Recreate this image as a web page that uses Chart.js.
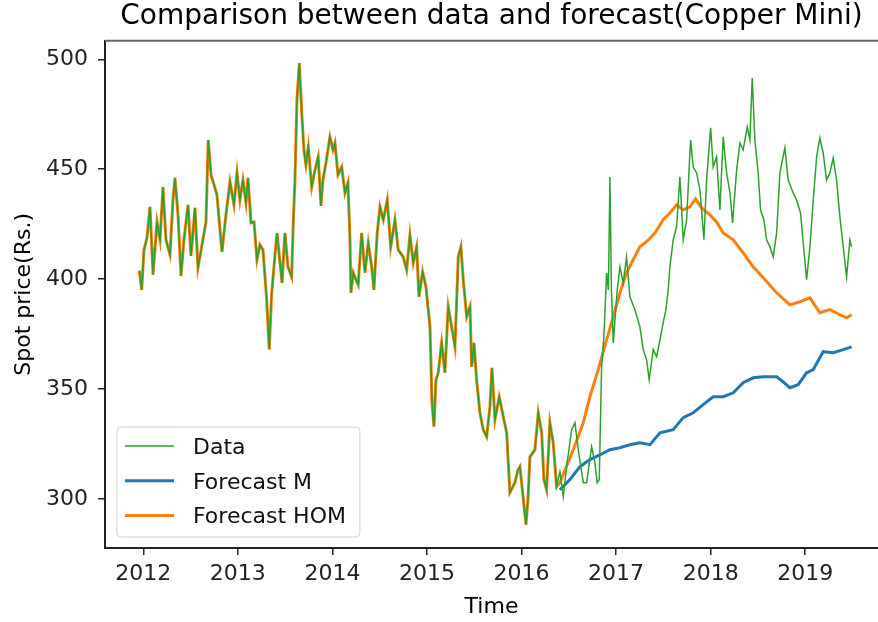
<!DOCTYPE html>
<html>
<head>
<meta charset="utf-8">
<script src="https://cdn.jsdelivr.net/npm/chart.js@4.4.0/dist/chart.umd.min.js"></script>
<style>
  html, body { margin: 0; padding: 0; background: #fff; }
</style>
</head>
<body>
<canvas id="graph" width="878" height="622"></canvas>
<script>
const titleText = 'Comparison between data and forecast(Copper Mini)';
const xTicks = [2012, 2013, 2014, 2015, 2016, 2017, 2018, 2019];
const yTicks = [300, 350, 400, 450, 500];

// observed spot price
const dataYears = [
  2011.958, 2011.983, 2012.007, 2012.039, 2012.071, 2012.103, 2012.145, 2012.177, 2012.208, 2012.240,
  2012.282, 2012.314, 2012.335, 2012.367, 2012.399, 2012.430, 2012.473, 2012.504, 2012.547, 2012.578,
  2012.621, 2012.663, 2012.687, 2012.716, 2012.748, 2012.779, 2012.811, 2012.832, 2012.874, 2012.917,
  2012.959, 2012.991, 2013.022, 2013.054, 2013.086, 2013.107, 2013.139, 2013.171, 2013.202, 2013.234,
  2013.266, 2013.305, 2013.332, 2013.358, 2013.393, 2013.414, 2013.445, 2013.467, 2013.498, 2013.530,
  2013.569, 2013.586, 2013.604, 2013.625, 2013.650, 2013.678, 2013.699, 2013.720, 2013.745, 2013.781,
  2013.816, 2013.850, 2013.879, 2013.900, 2013.932, 2013.974, 2014.006, 2014.027, 2014.059, 2014.098,
  2014.133, 2014.164, 2014.186, 2014.196, 2014.221, 2014.249, 2014.273, 2014.309, 2014.344, 2014.379,
  2014.415, 2014.439, 2014.474, 2014.503, 2014.538, 2014.580, 2014.616, 2014.661, 2014.696, 2014.749,
  2014.785, 2014.820, 2014.855, 2014.891, 2014.915, 2014.954, 2014.989, 2015.032, 2015.053, 2015.074,
  2015.095, 2015.119, 2015.155, 2015.190, 2015.225, 2015.261, 2015.296, 2015.331, 2015.359, 2015.384,
  2015.420, 2015.455, 2015.473, 2015.497, 2015.525, 2015.560, 2015.595, 2015.631, 2015.666, 2015.687,
  2015.719, 2015.764, 2015.807, 2015.843, 2015.877, 2015.930, 2015.962, 2015.983, 2016.012, 2016.047,
  2016.068, 2016.089, 2016.142, 2016.177, 2016.213, 2016.237, 2016.265, 2016.300, 2016.335, 2016.371,
  2016.406,
  2016.441, 2016.477, 2016.530, 2016.565, 2016.600, 2016.653, 2016.689, 2016.741, 2016.776, 2016.800,
  2016.822, 2016.847, 2016.871, 2016.900, 2016.919, 2016.935, 2016.951, 2016.970, 2017.012, 2017.041,
  2017.076, 2017.111, 2017.146, 2017.199, 2017.252, 2017.287, 2017.323, 2017.350, 2017.393, 2017.429,
  2017.464, 2017.498, 2017.527, 2017.551, 2017.569, 2017.604, 2017.640, 2017.675, 2017.710, 2017.746,
  2017.788, 2017.816, 2017.852, 2017.887, 2017.929, 2017.957, 2018.000, 2018.027, 2018.063, 2018.098,
  2018.133, 2018.169, 2018.204, 2018.232, 2018.275, 2018.310, 2018.344, 2018.387, 2018.415, 2018.440,
  2018.468, 2018.503, 2018.528, 2018.563, 2018.592, 2018.627, 2018.662, 2018.698, 2018.732, 2018.785,
  2018.820, 2018.873, 2018.909, 2018.951, 2018.979, 2019.015, 2019.050, 2019.085, 2019.121, 2019.155,
  2019.190, 2019.226, 2019.261, 2019.296, 2019.332, 2019.367, 2019.402, 2019.438, 2019.473, 2019.491
];
const dataValues = [
  403.8, 395.1, 413.3, 418.8, 432.9, 402.0, 426.0, 417.9, 441.9, 417.9,
  411.1, 436.0, 446.1, 429.2, 401.5, 417.9, 433.8, 410.6, 432.4, 405.1,
  415.6, 426.0, 463.3, 447.4, 442.9, 438.3, 422.4, 412.4, 429.2, 444.2,
  433.8, 448.3, 436.0, 445.1, 434.7, 446.1, 425.6, 426.0, 408.8, 415.6,
  413.3, 390.6, 368.0, 393.8, 411.1, 421.0, 407.9, 398.3, 421.0, 405.6,
  401.0, 425.6, 445.1, 481.5, 498.3, 473.8, 458.8, 452.0, 460.1, 441.9,
  449.7, 455.6, 433.3, 445.1, 452.9, 464.7, 458.8, 461.9, 447.4, 451.0,
  439.2, 443.8, 417.9, 393.8, 402.9, 399.7, 397.4, 421.0, 402.9, 416.5,
  405.6, 395.1, 421.0, 432.9, 427.0, 436.0, 414.7, 427.0, 413.3, 410.1,
  404.2, 420.1, 407.4, 414.7, 392.0, 403.3, 396.5, 378.3, 343.8, 332.9,
  354.2, 357.4, 371.0, 357.4, 387.4, 378.3, 369.2, 410.1, 414.7, 399.7,
  382.9, 387.4, 360.1, 371.0, 354.2, 339.2, 331.5, 328.3, 342.0, 359.7,
  336.1, 346.5, 337.4, 330.1, 302.9, 307.4, 313.3, 314.7, 302.9, 288.3,
  299.7, 319.2, 322.4, 339.2, 330.1, 308.8, 304.2, 334.7, 325.6, 305.6,
  312.4,
  301.1, 314.7, 331.5, 334.7, 322.4, 307.4, 307.4, 323.8, 316.5, 307.4,
  308.8, 360.1, 373.8, 402.9, 395.1, 446.5, 395.1, 371.0, 395.1, 405.6,
  398.3, 410.1, 392.0, 386.1, 378.3, 368.0, 363.3, 354.2, 368.0, 364.7,
  372.4, 380.1, 386.1, 395.1, 405.6, 417.9, 423.8, 446.5, 417.9, 427.0,
  463.3, 451.0, 448.3, 440.6, 417.9, 445.1, 468.8, 451.0, 455.6, 431.5,
  464.7, 448.3, 439.2, 425.6, 449.7, 461.9, 458.8, 469.2, 463.3, 491.5,
  463.3, 448.3, 431.5, 427.0, 417.9, 414.7, 410.1, 421.0, 448.3, 459.7,
  445.1, 439.2, 436.0, 430.1, 416.5, 399.7, 414.7, 436.0, 455.6, 464.2,
  457.4, 445.1, 448.3, 455.1, 445.1, 428.3, 414.7, 401.0, 417.9, 414.7
];

// model M forecast
const mYears = [
  2016.406, 2016.512, 2016.618, 2016.723, 2016.829, 2016.935, 2017.041, 2017.146, 2017.252, 2017.358,
  2017.464, 2017.604, 2017.710, 2017.816, 2017.921, 2018.027, 2018.133, 2018.239, 2018.344, 2018.450,
  2018.556, 2018.698, 2018.767, 2018.838, 2018.926, 2019.015, 2019.085, 2019.190, 2019.296, 2019.402,
  2019.491
];
const mValues = [
  304.2, 308.8, 314.7, 317.9, 320.1, 322.4, 323.3, 324.7, 325.6, 324.7,
  330.1, 331.5, 337.0, 339.2, 342.9, 346.5, 346.5, 348.3, 352.9, 355.1,
  355.6, 355.6, 353.3, 350.6, 352.0, 357.4, 358.8, 367.0, 366.5, 367.9,
  369.2
];

// HOM forecast (fitted part follows the data up to the split)
const homFitEnd = 2016.4;
const homYears = [
  2016.406, 2016.547, 2016.653, 2016.723, 2016.811, 2016.900, 2016.970, 2017.041, 2017.111, 2017.181,
  2017.252, 2017.323, 2017.411, 2017.498, 2017.569, 2017.640, 2017.710, 2017.781, 2017.841, 2017.905,
  2017.992, 2018.063, 2018.133, 2018.239, 2018.344, 2018.450, 2018.556, 2018.698, 2018.838, 2018.944,
  2019.050, 2019.155, 2019.261, 2019.367, 2019.438, 2019.491
];
const homValues = [
  307.4, 322.4, 334.7, 346.5, 358.8, 372.4, 382.9, 393.8, 402.9, 408.8,
  414.7, 417.0, 421.0, 427.0, 430.1, 433.8, 431.5, 432.9, 436.5, 432.4,
  429.2, 426.0, 421.0, 417.9, 411.9, 405.6, 400.6, 393.8, 388.3, 389.7,
  391.5, 384.7, 386.1, 383.8, 382.4, 383.8
];

function toPoints(xs, ys) {
  return xs.map((x, i) => ({ x: x, y: ys[i] }));
}

const homPoints = toPoints(dataYears, dataValues)
  .filter(p => p.x < homFitEnd)
  .concat(toPoints(homYears, homValues));

const FONT = '"DejaVu Sans", sans-serif';
Chart.defaults.font.family = FONT;

// top spine and the framed legend in the lower left corner
const frameAndLegend = {
  id: 'frameAndLegend',
  afterDraw(chart) {
    const { ctx, chartArea: a } = chart;
    ctx.save();
    ctx.strokeStyle = '#666';
    ctx.lineWidth = 2;
    ctx.beginPath();
    ctx.moveTo(a.left, a.top);
    ctx.lineTo(a.right, a.top);
    ctx.stroke();

    ctx.font = '22px ' + FONT;
    const sets = chart.data.datasets;
    const textW = Math.max(...sets.map(d => ctx.measureText(d.label).width));
    const bx = a.left + 12, bh = 110, by = a.bottom - 11 - bh;
    const bw = 76 + textW + 14;
    ctx.beginPath();
    ctx.roundRect(bx, by, bw, bh, 4);
    ctx.fillStyle = 'rgba(255,255,255,0.8)';
    ctx.fill();
    ctx.strokeStyle = '#d0d0d0';
    ctx.lineWidth = 1;
    ctx.stroke();

    sets.forEach((d, i) => {
      const ry = by + 19 + i * 34.7;
      ctx.beginPath();
      ctx.moveTo(bx + 8, ry);
      ctx.lineTo(bx + 57, ry);
      ctx.strokeStyle = d.borderColor;
      ctx.lineWidth = d.borderWidth;
      ctx.stroke();
      ctx.fillStyle = '#111';
      ctx.textBaseline = 'alphabetic';
      ctx.textAlign = 'left';
      ctx.fillText(d.label, bx + 76, ry + 8);
    });
    ctx.restore();
  }
};

const ctx = document.getElementById('graph').getContext('2d');

new Chart(ctx, {
  type: 'line',
  data: {
    datasets: [
      {
        label: 'Data',
        data: toPoints(dataYears, dataValues),
        borderColor: '#2ca02c',
        borderWidth: 1.5,
        pointRadius: 0,
        tension: 0
      },
      {
        label: 'Forecast M',
        data: toPoints(mYears, mValues),
        borderColor: '#1f77b4',
        borderWidth: 3,
        pointRadius: 0,
        tension: 0
      },
      {
        label: 'Forecast HOM',
        data: homPoints,
        borderColor: '#ff7f0e',
        borderWidth: 3,
        pointRadius: 0,
        tension: 0
      }
    ]
  },
  options: {
    responsive: false,
    animation: false,
    layout: { padding: 0 },
    plugins: {
      legend: { display: false },
      tooltip: { enabled: false },
      title: {
        display: true,
        text: titleText,
        fullSize: false,
        color: '#000',
        font: { size: 28, weight: 'normal', lineHeight: 1 },
        padding: { top: 3, bottom: 9.7 }
      }
    },
    scales: {
      x: {
        type: 'linear',
        min: 2011.595,
        max: 2019.77,
        afterBuildTicks: s => { s.ticks = xTicks.map(v => ({ value: v })); },
        afterFit: s => { s.height = 74; },
        ticks: {
          callback: v => String(v),
          autoSkip: false,
          maxRotation: 0,
          color: '#222',
          padding: 6,
          font: { size: 22 }
        },
        grid: { drawOnChartArea: false, drawTicks: true, tickLength: 7, color: '#222', lineWidth: 1.5 },
        border: { display: true, color: '#222', width: 2 },
        title: {
          display: true,
          text: 'Time',
          color: '#000',
          font: { size: 22 },
          padding: { top: 0, bottom: 2 }
        }
      },
      y: {
        min: 277.7,
        max: 508.45,
        afterBuildTicks: s => { s.ticks = yTicks.map(v => ({ value: v })); },
        afterFit: s => { s.width = 105; },
        ticks: {
          callback: v => String(v),
          color: '#222',
          padding: 10,
          font: { size: 22 }
        },
        grid: { drawOnChartArea: false, drawTicks: true, tickLength: 7, color: '#222', lineWidth: 1.5 },
        border: { display: true, color: '#222', width: 2 },
        title: {
          display: true,
          text: 'Spot price(Rs.)',
          color: '#000',
          font: { size: 22 },
          padding: { top: 11, bottom: 0 }
        }
      }
    }
  },
  plugins: [frameAndLegend]
});
</script>
</body>
</html>
